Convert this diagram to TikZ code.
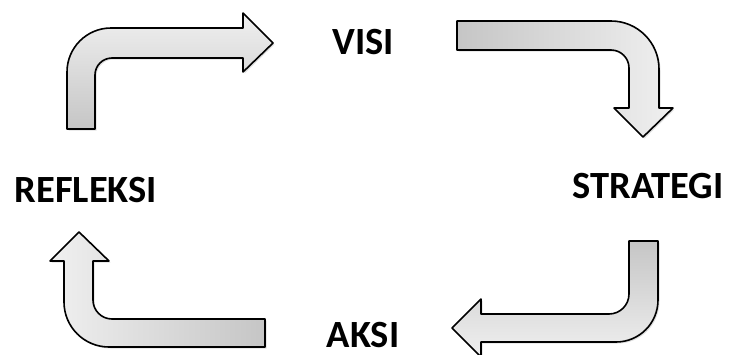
\documentclass[tikz,border=0pt]{standalone}
\usepackage{fontspec}
\setmainfont{Carlito}
\usetikzlibrary{shadows}
\begin{document}
\begin{tikzpicture}[x=1pt,y=-1pt,
  bigarrow/.style={draw=black, line width=1.6pt, line join=round,
    drop shadow={opacity=0.25, shadow xshift=1.5pt, shadow yshift=-1.5pt}},
  label/.style={font=\bfseries\fontsize{38.5}{42}\selectfont, inner sep=0pt, anchor=center}]
\useasboundingbox (0,0) rectangle (732,354);
% arrow top-left (up then right)
\path[bigarrow, top color=gray!12, bottom color=gray!45]
  (67,129) -- (67,72) arc[start angle=180, end angle=90, radius=44pt]
  -- (243,28) -- (243,13) -- (273,43) -- (243,72) -- (243,58)
  -- (112,58) arc[start angle=90, end angle=180, radius=17pt]
  -- (95,129) -- cycle;
% arrow top-right (right then down)
\path[bigarrow, left color=gray!45, right color=gray!12]
  (457,21) -- (611,21) arc[start angle=90, end angle=0, radius=48pt]
  -- (659,108) -- (673,108) -- (643,137) -- (614,108) -- (629,108)
  -- (629,68) arc[start angle=0, end angle=90, radius=18pt]
  -- (457,50) -- cycle;
% arrow bottom-right (down then left)
\begin{scope}
\clip (0,0) rectangle (732,354);
\path[bigarrow, top color=gray!45, bottom color=gray!12]
  (629,241) -- (658,241) -- (658,300) arc[start angle=0, end angle=-90, radius=42pt]
  -- (481,342) -- (481,357) -- (452,328) -- (481,299) -- (481,314)
  -- (609,314) arc[start angle=-90, end angle=0, radius=20pt]
  -- cycle;
\end{scope}
% arrow bottom-left (left then up)
\path[bigarrow, left color=gray!12, right color=gray!45]
  (265,347) -- (109,347) arc[start angle=270, end angle=180, radius=45pt]
  -- (64,261) -- (50,261) -- (79,232) -- (109,261) -- (93,261)
  -- (93,300) arc[start angle=180, end angle=270, radius=19pt]
  -- (265,319) -- cycle;
% labels
\node[label] (visi) at (363,42) {VISI};
\node[label] (refleksi) at (86,190) {REFLEKSI};
\node[label] (strategi) at (648,186) {STRATEGI};
\node[label] (aksi) at (363,335) {AKSI};
\end{tikzpicture}
\end{document}
